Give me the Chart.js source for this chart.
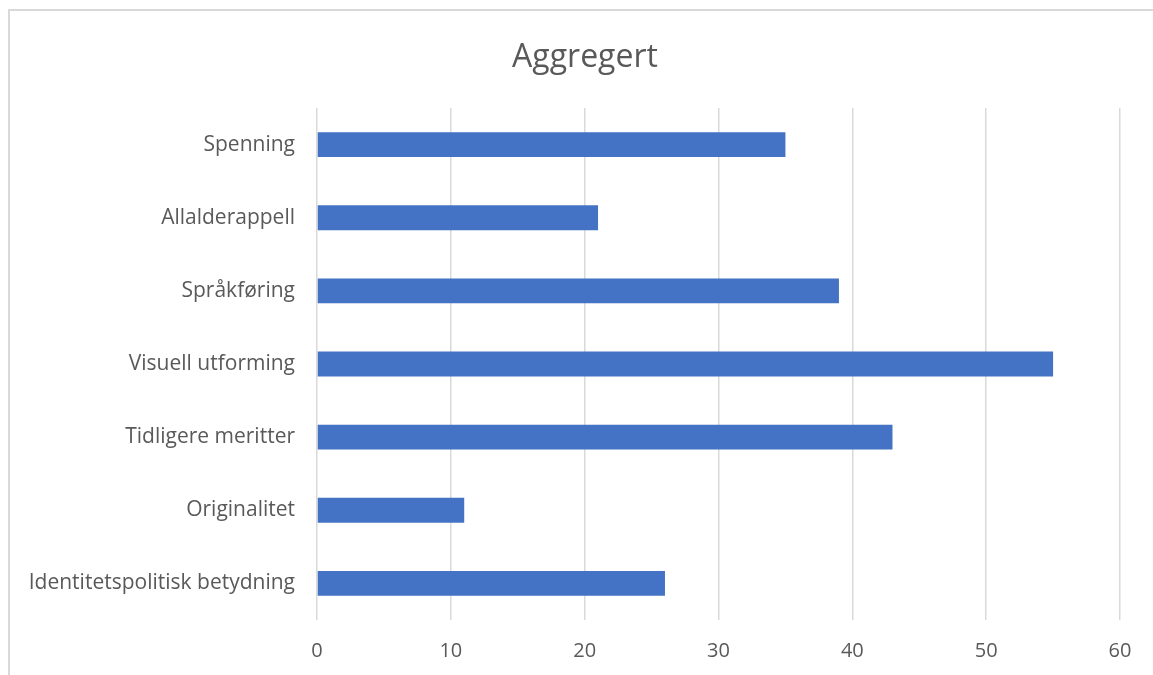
<!DOCTYPE html>
<html>
<head>
<meta charset="utf-8">
<script src="https://cdn.jsdelivr.net/npm/chart.js@4"></script>
<style>
  html, body { margin: 0; padding: 0; background: #fff; overflow: hidden; }
  #wrap { position: relative; width: 1153px; height: 675px; }
  #frame { position: absolute; left: 8px; top: 9px; width: 1200px; height: 720px; border: 2px solid #d9d9d9; box-sizing: border-box; }
  #tittel { position: absolute; left: 385px; width: 400px; top: 36px; line-height: 38px; text-align: center;
            font-family: 'Open Sans', 'Noto Sans', sans-serif; font-size: 32px; color: #595959; }
  canvas { position: absolute; left: 0; top: 0; }
</style>
</head>
<body>
<div id="wrap">
  <div id="frame"></div>
  <canvas id="chart" width="1153" height="675"></canvas>
  <div id="tittel">Aggregert</div>
</div>
<script>
// kategorier og verdier
const kategorier = ['Spenning', 'Allalderappell', 'Språkføring', 'Visuell utforming', 'Tidligere meritter', 'Originalitet', 'Identitetspolitisk betydning']
const verdier = [35, 21, 39, 55, 43, 11, 26]
const xTicks = [0, 10, 20, 30, 40, 50, 60]

const tekstFarge = '#595959'
const font = "'Open Sans', 'Noto Sans', sans-serif"

let ctx = document.getElementById('chart')
let chart = new Chart(ctx, {
    type: 'bar',
    data: {
        labels: kategorier,
        datasets: [{
            label: 'Aggregert',
            data: verdier,
            backgroundColor: '#4472c4',
            borderWidth: 0,
            barPercentage: 0.34,
            categoryPercentage: 1
        }]
    },
    options: {
        indexAxis: 'y',
        responsive: false,
        animation: false,
        layout: { padding: { left: 0, right: 33, top: 108, bottom: 0 } },
        plugins: {
            legend: { display: false },
            tooltip: { enabled: false },
            title: { display: false }
        },
        scales: {
            x: {
                min: 0,
                max: 60,
                afterBuildTicks: (scale) => { scale.ticks = xTicks.map(v => ({ value: v })) },
                grid: { color: '#d9d9d9', lineWidth: 1.5, drawTicks: false },
                border: { display: false },
                ticks: { color: tekstFarge, font: { family: font, size: 20 }, padding: 19 },
                afterFit: (scale) => { scale.height = 55 }
            },
            y: {
                grid: { display: false },
                border: { display: false },
                ticks: { color: tekstFarge, font: { family: font, size: 21 }, padding: 14 },
                afterFit: (scale) => { scale.width = 317 }
            }
        }
    }
});
</script>
</body>
</html>
